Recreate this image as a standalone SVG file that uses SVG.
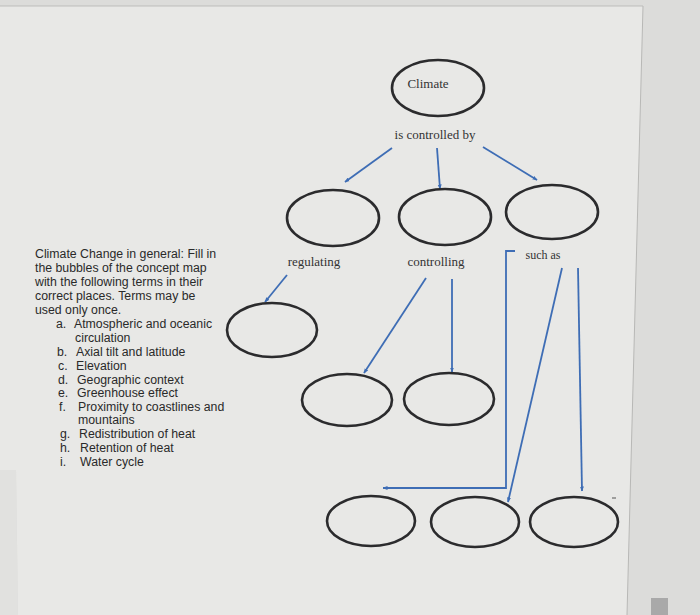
<svg xmlns="http://www.w3.org/2000/svg" width="700" height="615" viewBox="0 0 700 615">
<defs>
<style>
.bub{fill:none;stroke:#2b2b2d;stroke-width:2.6}
.con{fill:none;stroke:#3e6db5;stroke-width:1.8}
.lbl{font-family:"Liberation Serif","DejaVu Serif",serif;font-size:13px;fill:#333333}
.txt{font-family:"Liberation Sans",Arial,sans-serif;font-size:12.3px;fill:#2a2a2a}
</style>
<marker id="ah" viewBox="0 0 10 10" refX="9" refY="5" markerWidth="5" markerHeight="5" orient="auto" markerUnits="userSpaceOnUse">
<path d="M0,1 L10,5 L0,9 z" fill="#3e6db5"/>
</marker>
</defs>
<rect x="0" y="0" width="700" height="615" fill="#dcdcda"/>
<polygon points="0,6 643,6 627,615 18,615 16,470 0,470" fill="#e8e8e6"/>
<polygon points="0,470 16,470 18,615 0,615" fill="#e1e1df"/>
<line x1="0" y1="6" x2="643" y2="6" stroke="#bdbdbb" stroke-width="1"/>
<line x1="643" y1="6" x2="627" y2="615" stroke="#b8b8b6" stroke-width="1"/>
<rect x="651" y="598" width="17" height="17" fill="#a9a9a9"/>

<g id="connectors">
<line class="con" x1="392" y1="148" x2="345" y2="182" marker-end="url(#ah)"/>
<line class="con" x1="437" y1="148" x2="440" y2="189" marker-end="url(#ah)"/>
<line class="con" x1="483" y1="147" x2="537" y2="180" marker-end="url(#ah)"/>
<line class="con" x1="287" y1="275" x2="265" y2="302" marker-end="url(#ah)"/>
<line class="con" x1="426" y1="278" x2="364" y2="373" marker-end="url(#ah)"/>
<line class="con" x1="452" y1="279" x2="452" y2="372" marker-end="url(#ah)"/>
<polyline class="con" points="515,251 506,251 506,488 383,488" marker-end="url(#ah)"/>
<line class="con" x1="562" y1="268" x2="508" y2="502" marker-end="url(#ah)"/>
<line class="con" x1="578" y1="268" x2="582" y2="491" marker-end="url(#ah)"/>
</g>

<g id="climate">
<ellipse class="bub" cx="438" cy="88" rx="46" ry="28"/>
<text class="lbl" x="428" y="88" text-anchor="middle">Climate</text>
</g>
<g id="label-controlled"><text class="lbl" x="435" y="139" text-anchor="middle">is controlled by</text></g>

<g id="bubble-r2-1"><ellipse class="bub" cx="333" cy="218" rx="46" ry="28"/></g>
<g id="bubble-r2-2"><ellipse class="bub" cx="445" cy="217" rx="46" ry="28"/></g>
<g id="bubble-r2-3"><ellipse class="bub" cx="552" cy="212" rx="46" ry="27"/></g>

<g id="label-regulating"><text class="lbl" x="314" y="266" text-anchor="middle">regulating</text></g>
<g id="label-controlling"><text class="lbl" x="436" y="266" text-anchor="middle">controlling</text></g>
<g id="label-suchas"><text class="lbl" x="543" y="259" text-anchor="middle" style="font-size:12px">such as</text></g>

<g id="bubble-r3-1"><ellipse class="bub" cx="272" cy="330" rx="45" ry="27"/></g>
<g id="bubble-r4-1"><ellipse class="bub" cx="347" cy="400" rx="45" ry="26"/></g>
<g id="bubble-r4-2"><ellipse class="bub" cx="449" cy="399" rx="45" ry="26"/></g>
<g id="bubble-r5-1"><ellipse class="bub" cx="371" cy="521" rx="44" ry="25"/></g>
<g id="bubble-r5-2"><ellipse class="bub" cx="475" cy="522" rx="44" ry="25"/></g>
<g id="bubble-r5-3"><ellipse class="bub" cx="574" cy="522" rx="44" ry="25"/></g>
<line x1="612" y1="498" x2="616" y2="498" stroke="#555" stroke-width="1"/>

<g id="instructions" class="txt">
<text x="35" y="258">Climate Change in general: Fill in</text>
<text x="35" y="272">the bubbles of the concept map</text>
<text x="35" y="286">with the following terms in their</text>
<text x="35" y="300">correct places. Terms may be</text>
<text x="35" y="314">used only once.</text>
<text x="56" y="328">a.</text><text x="74" y="328">Atmospheric and oceanic</text>
<text x="75" y="342">circulation</text>
<text x="57" y="356">b.</text><text x="76" y="356">Axial tilt and latitude</text>
<text x="58" y="370">c.</text><text x="76" y="370">Elevation</text>
<text x="58" y="384">d.</text><text x="77" y="384">Geographic context</text>
<text x="58" y="397">e.</text><text x="77" y="397">Greenhouse effect</text>
<text x="59" y="411">f.</text><text x="78" y="411">Proximity to coastlines and</text>
<text x="78" y="424">mountains</text>
<text x="60" y="438">g.</text><text x="79" y="438">Redistribution of heat</text>
<text x="60" y="452">h.</text><text x="80" y="452">Retention of heat</text>
<text x="60" y="466">i.</text><text x="80" y="466">Water cycle</text>
</g>
</svg>
